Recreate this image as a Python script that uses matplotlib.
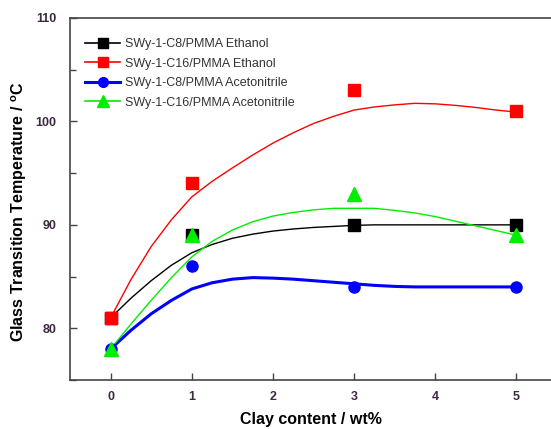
import matplotlib
matplotlib.use('Agg')
import matplotlib.pyplot as plt
from matplotlib.ticker import MultipleLocator

plt.rcParams['font.family'] = ['Liberation Sans', 'DejaVu Sans']

# measured points
clay = [0, 1, 3, 5]
c8_eth = [81, 89, 90, 90]
c16_eth = [81, 94, 103, 101]
c8_acn = [78, 86, 84, 84]
c16_acn = [78, 89, 93, 89]

# fitted curves
fit_x = [0, 0.25, 0.5, 0.75, 1, 1.25, 1.5, 1.75, 2, 2.25, 2.5,
         2.75, 3, 3.25, 3.5, 3.75, 4, 4.25, 4.5, 4.75, 5]
fit_c8_eth = [81, 82.9, 84.6, 86.1, 87.3, 88.1, 88.7, 89.1, 89.4, 89.6, 89.75,
              89.85, 89.95, 90, 90, 90, 90, 90, 90, 90, 90]
fit_c16_eth = [81, 84.7, 87.9, 90.5, 92.7, 94.2, 95.5, 96.75, 97.9, 98.9, 99.8,
               100.5, 101.1, 101.4, 101.6, 101.75, 101.7, 101.55, 101.35, 101.1, 100.9]
fit_c8_acn = [78, 79.8, 81.4, 82.7, 83.8, 84.4, 84.75, 84.9, 84.85, 84.75, 84.6,
              84.45, 84.3, 84.15, 84.05, 84, 84, 84, 84, 84, 84]
fit_c16_acn = [78, 80.4, 82.7, 84.9, 86.9, 88.4, 89.5, 90.3, 90.85, 91.2, 91.45,
               91.6, 91.6, 91.6, 91.4, 91.15, 90.8, 90.35, 89.9, 89.45, 89]

labels = ['SWy-1-C8/PMMA Ethanol', 'SWy-1-C16/PMMA Ethanol',
          'SWy-1-C8/PMMA Acetonitrile', 'SWy-1-C16/PMMA Acetonitrile']
colors = ['black', '#ff0000', '#0000ff', '#00ee00']
markers = ['s', 's', 'o', '^']
msizes = [8, 8, 8, 10]
lwidths = [1, 1, 2.2, 1]

fig = plt.figure(figsize=(5.51, 4.29), dpi=100)
ax = fig.add_axes([70 / 551, 49 / 429, 487 / 551, 362 / 429])

series = [c8_eth, c16_eth, c8_acn, c16_acn]
fits = [fit_c8_eth, fit_c16_eth, fit_c8_acn, fit_c16_acn]
for i in range(4):
    ax.plot(fit_x, fits[i], color=colors[i], linewidth=lwidths[i], zorder=2)
    ax.plot(clay, series[i], linestyle='none', marker=markers[i],
            markersize=msizes[i], color=colors[i], zorder=3)

# legend entries with line + marker
handles = [plt.Line2D([], [], color=colors[i], linewidth=lwidths[i] if i == 2 else 1.2,
                      marker=markers[i], markersize=7 if i != 3 else 9)
           for i in range(4)]
leg = ax.legend(handles, labels, loc='upper left', bbox_to_anchor=(0.008, 0.975),
                frameon=False, fontsize=9, handlelength=2.8, handletextpad=0.4,
                labelspacing=0.6, numpoints=1)
for t in leg.get_texts():
    t.set_color('#333333')

ax.set_xlim(-0.5, 5.5)
ax.set_ylim(75, 110)
ax.xaxis.set_major_locator(MultipleLocator(1))
ax.yaxis.set_major_locator(MultipleLocator(10))
ax.yaxis.set_minor_locator(MultipleLocator(5))
ax.tick_params(direction='in', length=5, width=1, colors='#444444', labelcolor='#3d2a40',
               labelsize=9)
ax.tick_params(which='minor', direction='in', length=4, width=1, colors='#444444')
ax.tick_params(axis='x', pad=8)
ax.tick_params(axis='y', pad=10)
for lab in ax.get_xticklabels() + ax.get_yticklabels():
    lab.set_fontweight('bold')
for s in ax.spines.values():
    s.set_color('#444444')
    s.set_linewidth(1.2)

ax.set_xlabel('Clay content / wt%', fontsize=11.5, fontweight='bold')
ax.set_ylabel(r'Glass Transition Temperature / $^\mathregular{o}$C', fontsize=11.5,
              fontweight='bold')
ax.xaxis.set_label_coords(0.495, -0.088)
ax.yaxis.set_label_coords(-0.084, 0.464)

fig.savefig('out.png', dpi=100)
